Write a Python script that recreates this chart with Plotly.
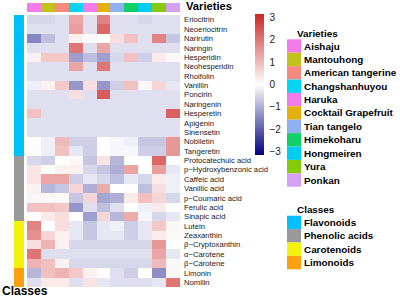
import plotly.graph_objects as go

W, H = 400, 298

varieties = ["Aishaju", "Mantouhong", "American tangerine", "Changshanhuyou", "Haruka",
             "Cocktail Grapefruit", "Tian tangelo", "Himekoharu", "Hongmeiren", "Yura", "Ponkan"]
variety_colors = ["#F47CE8", "#C2C21A", "#F58A7E", "#00D5F2", "#F47CE8", "#E6B00C",
                  "#8FB0F2", "#10CF68", "#00CDF2", "#86CA0E", "#D6A0F2"]

compounds = ["Eriocitrin", "Neoeriocitrin", "Narirutin", "Naringin", "Hesperidin", "Neohesperidin",
             "Rhoifolin", "Vanillin", "Poncirin", "Naringenin", "Hesperetin", "Apigenin",
             "Sinensetin", "Nobiletin", "Tangeretin",
             "Protocatechuic acid", "p\u2212Hydroxybenzonic acid", "Caffeic acid", "Vanillic acid",
             "p\u2212Coumaric acid", "Ferulic acid", "Sinapic acid",
             "Lutein", "Zeaxanthin", "\u03b2\u2212Cryptoxanthin", "\u03b1\u2212Carotene", "\u03b2\u2212Carotene",
             "Limonin", "Nomilin"]

classes = ["Flavonoids", "Phenolic acids", "Carotenoids", "Limonoids"]
class_colors = ["#00BFFF", "#999999", "#F2F20A", "#FFA010"]
compound_class = [0]*15 + [1]*7 + [2]*5 + [3]*2

values = [
    [-0.5, -0.5, -0.4, 1.3, -0.4, 1.8, -0.4, -0.4, -0.5, -0.4, -0.4],
    [-0.4, -0.4, -0.4, 1.4, -0.4, 2.2, -0.4, -0.4, -0.4, -0.4, -0.4],
    [-1.5, -0.8, -0.4, 0.2, -0.05, 0.0, 0.5, 0.9, -0.4, 1.8, -0.7],
    [-0.4, -0.4, -0.4, 2.0, -0.4, 1.3, -0.4, -0.4, -0.4, -0.4, -0.4],
    [0.2, 0.8, 0.8, -1.2, -0.8, -1.2, -0.5, 0.9, -0.6, 0.3, 0.1],
    [-0.4, -0.4, -0.4, 1.3, -0.4, 2.0, -0.4, -0.4, -0.4, -0.4, -0.4],
    [-0.4, -0.4, -0.4, -0.4, -0.4, -0.4, -0.4, -0.4, -0.4, -0.4, -0.4],
    [-0.2, 0.2, 0.8, -1.3, 0.5, -1.3, -0.6, 0.9, 0.1, 0.6, -0.3],
    [-0.4, -0.4, -0.4, 0.5, -0.4, 2.4, -0.4, -0.4, -0.4, -0.4, -0.4],
    [-0.4, -0.4, -0.4, -0.4, -0.4, -0.4, -0.4, -0.4, -0.4, -0.4, -0.4],
    [0.9, -0.4, -0.4, -0.4, -0.4, -0.4, -0.4, -0.4, -0.4, -0.4, 2.3],
    [-0.4, -0.4, -0.4, -0.4, -0.4, -0.4, -0.4, -0.4, -0.4, -0.4, -0.4],
    [-0.4, -0.4, -0.4, -0.4, -0.4, -0.4, -0.4, -0.4, -0.4, -0.4, -0.4],
    [0.0, -0.2, 1.0, -0.6, -0.6, 0.0, -0.1, -0.2, -0.7, -0.7, 1.5],
    [0.05, -0.2, 0.9, -0.3, -0.6, 0.0, -0.1, -0.1, -0.6, -0.6, 1.5],
    [-0.5, -0.6, 0.0, 0.1, -0.7, 0.4, -0.9, 0.0, 0.0, 2.2, 0.0],
    [0.4, 0.0, 0.2, 0.2, -0.5, -0.7, -1.0, 1.3, 0.0, 1.4, -0.3],
    [0.4, 1.3, 1.3, -0.6, -0.3, -0.5, -0.8, -0.3, -0.5, 0.3, -0.2],
    [0.2, -0.9, -0.7, 0.6, -1.0, 1.2, 0.0, 0.05, -0.8, 0.5, -0.2],
    [-0.1, 0.1, 0.1, -0.7, 0.6, -1.1, -1.0, 0.3, 0.9, 0.6, -0.5],
    [0.9, 0.9, 0.8, -1.3, -0.4, -0.8, -0.4, 0.0, -0.2, 0.3, 0.0],
    [0.0, 0.3, 0.5, 0.0, -1.2, 0.6, -0.9, 1.2, -0.1, -0.5, -0.3],
    [1.8, 0.0, 0.5, -0.3, -0.7, -0.3, -0.2, -0.6, -0.3, 0.8, 0.1],
    [1.6, 0.6, 0.2, -0.3, -0.7, -0.3, -0.3, -0.6, -0.3, 0.3, 0.1],
    [0.5, 1.1, 0.2, -0.5, -0.5, -0.5, -0.5, -0.5, -0.5, 1.5, 0.0],
    [2.0, -0.4, -0.4, -0.4, -0.4, -0.4, -0.4, -0.4, -0.4, 1.3, -0.3],
    [1.1, 0.9, 0.2, -0.5, -0.5, -0.5, -0.5, -0.5, -0.5, 1.0, 0.1],
    [-0.9, 0.9, 1.1, 0.8, 0.2, 0.0, -0.4, -0.6, 0.0, -1.4, 0.1],
    [-0.4, 0.3, 0.3, -0.4, 0.4, -0.3, -0.4, -0.4, -0.4, -0.3, 2.0],
]

colorbar_ticks = [-3, -2, -1, 0, 1, 2, 3]


def px_x(p):
    return p / W


def px_y(p):
    return 1 - p / H


def discrete_scale(colors):
    n = len(colors)
    sc = []
    for i, c in enumerate(colors):
        sc.append([i / n, c])
        sc.append([(i + 1) / n, c])
    return sc


nrow, ncol = len(compounds), len(varieties)
HM_X = [px_x(27), px_x(180)]
HM_Y = [px_y(287), px_y(15)]

fig = go.Figure()

# main heatmap
fig.add_trace(go.Heatmap(
    z=values, x=list(range(ncol)), y=list(range(nrow)),
    zmin=-3.15, zmax=3.15,
    colorscale=[[0, "#000080"], [0.5, "#FFFFFF"], [1, "#CD2626"]],
    xaxis="x", yaxis="y", hoverinfo="skip",
    colorbar=dict(
        x=px_x(255), xanchor="left", xpad=0,
        y=px_y(14), yanchor="top", ypad=0,
        len=141, lenmode="pixels", thickness=9, thicknessmode="pixels",
        outlinewidth=0, tickvals=colorbar_ticks,
        ticks="outside", ticklen=4, tickcolor="rgba(0,0,0,0)",
        tickfont=dict(family="Liberation Sans", size=10, color="#222"),
    ),
))

# column annotation (varieties)
fig.add_trace(go.Heatmap(
    z=[list(range(ncol))], x=list(range(ncol)), y=[0],
    zmin=-0.5, zmax=ncol - 0.5,
    colorscale=discrete_scale(variety_colors), showscale=False,
    xaxis="x2", yaxis="y2", hoverinfo="skip",
))

# row annotation (classes)
fig.add_trace(go.Heatmap(
    z=[[c] for c in compound_class], x=[0], y=list(range(nrow)),
    zmin=-0.5, zmax=len(classes) - 0.5,
    colorscale=discrete_scale(class_colors), showscale=False,
    xaxis="x3", yaxis="y3", hoverinfo="skip",
))

hidden = dict(showgrid=False, zeroline=False, showticklabels=False, ticks="", showline=False)

fig.update_layout(
    width=W, height=H,
    margin=dict(l=0, r=0, t=0, b=0),
    paper_bgcolor="white", plot_bgcolor="white",
    showlegend=False,
    xaxis=dict(domain=HM_X, range=[-0.5, ncol - 0.5], anchor="y", **hidden),
    yaxis=dict(domain=HM_Y, range=[nrow - 0.5, -0.5], anchor="x", side="right",
               tickvals=list(range(nrow)), ticktext=compounds, ticks="", showgrid=False,
               zeroline=False, ticklabelstandoff=3,
               tickfont=dict(family="Liberation Sans", size=7.7, color="#1a1a1a")),
    xaxis2=dict(domain=HM_X, range=[-0.5, ncol - 0.5], anchor="y2", **hidden),
    yaxis2=dict(domain=[px_y(12), px_y(3)], range=[-0.5, 0.5], anchor="x2", **hidden),
    xaxis3=dict(domain=[px_x(14), px_x(24)], range=[-0.5, 0.5], anchor="y3", **hidden),
    yaxis3=dict(domain=HM_Y, range=[nrow - 0.5, -0.5], anchor="x3", **hidden),
)

shapes = []
annotations = []

annotations.append(dict(x=px_x(184), y=px_y(6.5), xref="paper", yref="paper", xanchor="left",
                        yanchor="middle", text="<b>Varieties</b>", showarrow=False,
                        font=dict(family="Liberation Sans", size=11.2, color="black")))
annotations.append(dict(x=px_x(0), y=px_y(291), xref="paper", yref="paper", xanchor="left",
                        yanchor="middle", text="<b>Classes</b>", showarrow=False,
                        font=dict(family="Liberation Sans", size=12, color="black")))

SW = 13.4


def legend_block(title, names, colors, title_y, top):
    annotations.append(dict(x=px_x(295), y=px_y(title_y), xref="paper", yref="paper",
                            xanchor="left", yanchor="middle", text="<b>%s</b>" % title,
                            showarrow=False,
                            font=dict(family="Liberation Sans", size=9.9, color="black")))
    for i, (nm, col) in enumerate(zip(names, colors)):
        y0 = top + i * SW
        shapes.append(dict(type="rect", xref="paper", yref="paper",
                           x0=px_x(287), x1=px_x(301), y0=px_y(y0 + SW), y1=px_y(y0),
                           fillcolor=col, line=dict(width=0)))
        annotations.append(dict(x=px_x(302), y=px_y(y0 + SW / 2), xref="paper", yref="paper",
                                xanchor="left", yanchor="middle", text="<b>%s</b>" % nm,
                                showarrow=False,
                                font=dict(family="Liberation Sans", size=9.9, color="black")))


legend_block("Varieties", varieties, variety_colors, 33, 39.3)
legend_block("Classes", classes, class_colors, 209, 215.7)

fig.update_layout(shapes=shapes, annotations=annotations)

fig.write_html("out.html", config={"displayModeBar": False},
               post_script="document.body.style.margin='0';")
